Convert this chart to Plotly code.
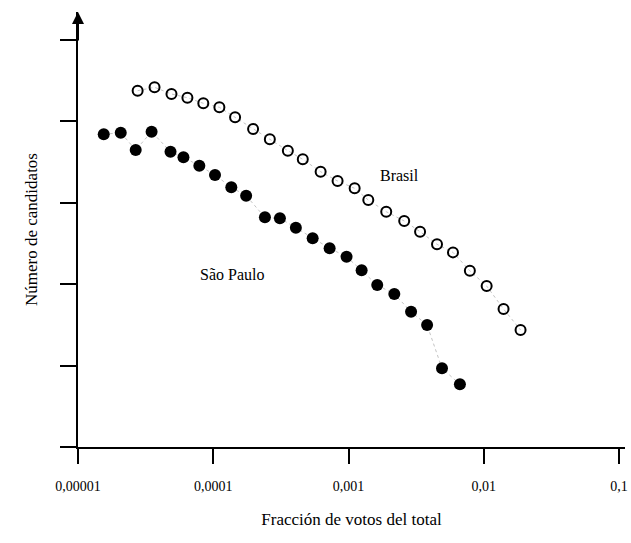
import plotly.graph_objects as go

# Fracción de votos vs. número de candidatos (log-log)
sp_frac = [1.55e-5, 2.07e-5, 2.67e-5, 3.50e-5, 4.83e-5, 6.02e-5, 7.89e-5, 1.03e-4,
           1.36e-4, 1.75e-4, 2.41e-4, 3.11e-4, 4.08e-4, 5.43e-4, 7.25e-4, 9.67e-4,
           1.25e-3, 1.63e-3, 2.18e-3, 2.90e-3, 3.81e-3, 4.91e-3, 6.66e-3]
sp_count = [6950, 7265, 4455, 7470, 4245, 3622, 2857, 2197, 1549, 1222, 663, 645,
            494, 366, 276, 218, 148, 97.7, 75.8, 45.9, 31.5, 9.26, 5.89]

br_frac = [2.76e-5, 3.68e-5, 4.91e-5, 6.44e-5, 8.44e-5, 1.11e-4, 1.45e-4, 1.97e-4,
           2.62e-4, 3.56e-4, 4.59e-4, 6.22e-4, 8.30e-4, 1.11e-3, 1.40e-3, 1.90e-3,
           2.58e-3, 3.38e-3, 4.51e-3, 5.92e-3, 7.89e-3, 1.05e-2, 1.40e-2, 1.87e-2]
br_count = [23840, 26240, 21710, 19540, 16680, 14900, 11220, 8070, 6030, 4365, 3420,
            2410, 1853, 1507, 1082, 778, 598, 442, 309, 246, 146, 95, 49.6, 27.4]

x_ticks = [1e-5, 1e-4, 1e-3, 1e-2, 1e-1]
x_tick_text = ["0,00001", "0,0001", "0,001", "0,01", "0,1"]
y_ticks = [1, 10, 100, 1000, 10000, 100000]

SERIF = "Liberation Serif, Times New Roman, serif"

fig = go.Figure()
fig.add_trace(go.Scatter(
    x=br_frac, y=br_count, mode="lines+markers", name="Brasil",
    line=dict(color="#c4c4c4", width=1, dash="dot"),
    marker=dict(symbol="circle-open", size=10, color="black", line=dict(width=2, color="black")),
))
fig.add_trace(go.Scatter(
    x=sp_frac, y=sp_count, mode="lines+markers", name="São Paulo",
    line=dict(color="#c4c4c4", width=1, dash="dot"),
    marker=dict(symbol="circle", size=12, color="black"),
))

fig.add_annotation(x=-2.62, y=3.34, text="Brasil", showarrow=False,
                   font=dict(family=SERIF, size=16, color="black"))
fig.add_annotation(x=-3.86, y=2.12, text="São Paulo", showarrow=False,
                   font=dict(family=SERIF, size=16, color="black"))
# arrowhead on top of the vertical axis
fig.add_annotation(x=-5, y=5.344, ax=0, ay=30, text="", showarrow=True,
                   arrowhead=2, arrowsize=1.2, arrowwidth=2, arrowcolor="black",
                   xref="x", yref="y")

fig.update_layout(
    width=631, height=543,
    margin=dict(l=78, r=3, t=12, b=96),
    paper_bgcolor="white", plot_bgcolor="white",
    showlegend=False,
    font=dict(family=SERIF, color="black"),
)
fig.update_xaxes(
    type="log", range=[-5, -0.956],
    tickvals=x_ticks, ticktext=x_tick_text,
    ticks="outside", ticklen=15, tickwidth=2, tickcolor="black",
    ticklabelstandoff=10,
    tickfont=dict(family=SERIF, size=14, color="black"),
    showline=True, linecolor="black", linewidth=2,
    showgrid=False, zeroline=False,
    title=dict(text="Fracción de votos del total", font=dict(family=SERIF, size=17), standoff=20),
)
fig.update_yaxes(
    type="log", range=[0, 5.344],
    tickvals=y_ticks, showticklabels=False,
    ticks="outside", ticklen=16, tickwidth=2, tickcolor="black",
    showline=True, linecolor="black", linewidth=2,
    showgrid=False, zeroline=False,
    title=dict(text="Número de candidatos", font=dict(family=SERIF, size=17), standoff=18),
)

fig.write_html("out.html")
